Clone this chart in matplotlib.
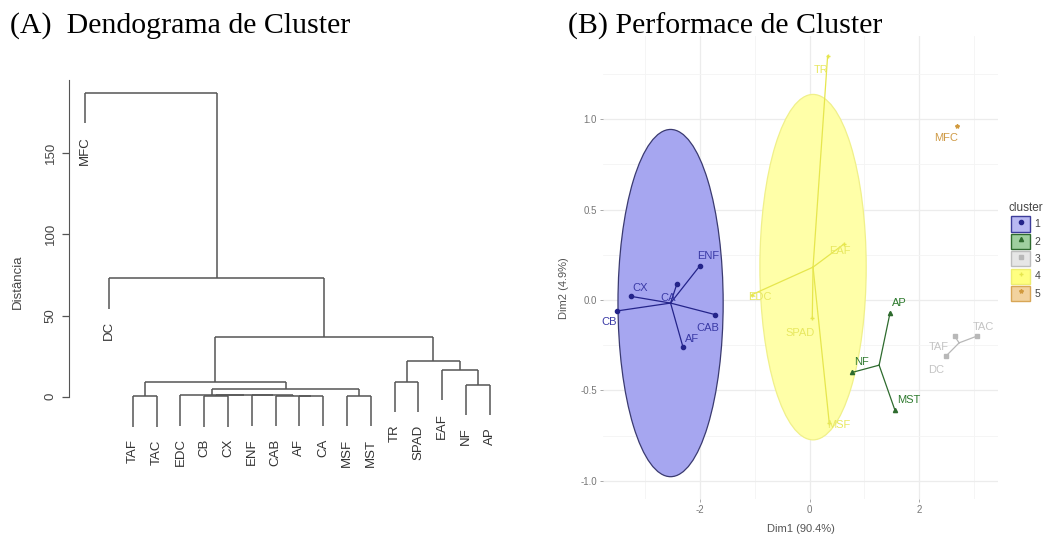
import matplotlib
matplotlib.use("Agg")
import matplotlib.pyplot as plt
from matplotlib.patches import Ellipse, Patch
from matplotlib.lines import Line2D

plt.rcParams['font.family'] = ['Liberation Sans', 'DejaVu Sans']
plt.rcParams['axes.unicode_minus'] = False

# ---------------- (A) dendrogram data ----------------
leaves = ["MFC", "DC", "TAF", "TAC", "EDC", "CB", "CX", "ENF", "CAB",
          "AF", "CA", "MSF", "MST", "TR", "SPAD", "EAF", "NF", "AP"]
# merges: (child a, child b, height); str = leaf, int = earlier merge
merge_a = ["CB", "AF", "CAB", "ENF", 0, "EDC", "MSF", 5, "TAF", 8,
           "TR", "NF", "EAF", 10, 9, "DC", "MFC"]
merge_b = ["CX", "CA", 1, 2, 3, 4, "MST", 6, "TAC", 7,
           "SPAD", "AP", 11, 12, 13, 14, 15]
merge_h = [0.4, 0.5, 0.6, 0.8, 0.9, 1.0, 0.5, 4.9, 0.3, 9.2,
           9.2, 7.4, 16.6, 22.0, 37.0, 72.8, 187.0]
hang = 0.1 * max(merge_h)

# ---------------- (B) cluster plot data ----------------
cl_names = [["ENF", "CX", "CA", "CB", "CAB", "AF"],
            ["AP", "NF", "MST"],
            ["TAC", "TAF", "DC"],
            ["TR", "EAF", "EDC", "SPAD", "MSF"],
            ["MFC"]]
cl_x = [[-2.0, -3.25, -2.42, -3.51, -1.73, -2.31],
        [1.47, 0.78, 1.56],
        [3.05, 2.65, 2.49],
        [0.33, 0.63, -1.05, 0.05, 0.36],
        [2.69]]
cl_y = [[0.19, 0.02, 0.09, -0.06, -0.08, -0.26],
        [-0.07, -0.40, -0.61],
        [-0.20, -0.20, -0.31],
        [1.35, 0.31, 0.03, -0.10, -0.68],
        [0.96]]
# ellipse semi-axes (Dim1, Dim2) for clusters that have one
ell_rx = [0.96, None, None, 0.97, None]
ell_ry = [0.96, None, None, 0.955, None]

# label offsets in pixels (dx, dy) relative to point
lab_off = {"ENF": (8, 10), "CX": (9, 8), "CA": (-9, -14), "CB": (-8, -11),
           "CAB": (-7, -13), "AF": (9, 8), "AP": (9, 10), "NF": (9, 10),
           "MST": (14, 10), "TAC": (7, 9), "TAF": (-16, -11), "DC": (-10, -14),
           "MFC": (-11, -12), "TR": (-6, -14), "EAF": (-4, -7), "EDC": (8, -2),
           "SPAD": (-12, -15), "MSF": (9, -2)}

pt_col = ["#24248a", "#2e6b2e", "#b8b8b8", "#e6e64d", "#d19a3e"]
txt_col = ["#3a3aa6", "#2e7a2e", "#c4c4c4", "#e8e860", "#cf9a45"]
ell_fc = ["#a6a6f0", None, None, "#ffffa8", None]
ell_ec = ["#3a3a70", None, None, "#f0f08a", None]
key_fc = ["#b8b8f2", "#9fcf9f", "#e6e6e6", "#ffff80", "#f2d29e"]
key_ec = ["#3c3c9a", "#2e6b2e", "#bdbdbd", "#eeee70", "#d8a656"]
markers = ["o", "^", "s", "+", "*"]

fig = plt.figure(figsize=(10.52, 5.40), dpi=100)

# ---------------- panel A ----------------
ax = fig.add_axes([69 / 1052, 1 - 440 / 540, 437 / 1052, 360.4 / 540])
lc = "#555555"
node_x = []
for a, b, h in zip(merge_a, merge_b, merge_h):
    pts = []
    for c in (a, b):
        if isinstance(c, str):
            cx, cy = leaves.index(c) + 1, h - hang
            ax.annotate(c, xy=(cx, cy), xytext=(0, -9), textcoords="offset points",
                        rotation=90, ha="center", va="top", fontsize=9.5, color="#333333")
        else:
            cx, cy = node_x[c], merge_h[c]
        ax.plot([cx, cx], [cy, h], color=lc, lw=1.1, solid_capstyle="butt")
        pts.append(cx)
    ax.plot(pts, [h, h], color=lc, lw=1.1, solid_capstyle="butt")
    node_x.append(sum(pts) / 2)

ax.set_xlim(0.32, 18.68)
ax.set_ylim(-26.6, 195.2)
for s in ["top", "right", "bottom"]:
    ax.spines[s].set_visible(False)
ax.spines["left"].set_bounds(0, 195.2)
ax.spines["left"].set_color("#555555")
ax.set_xticks([])
ax.set_yticks([0, 50, 100, 150])
ax.tick_params(axis="y", length=5, width=0.9, color="#555555", labelsize=9.5,
               labelcolor="#444444", pad=4)
for t in ax.get_yticklabels():
    t.set_rotation(90)
    t.set_va("center")
ax.set_ylabel("Distância", fontsize=9.5, color="#444444")
ax.yaxis.set_label_coords(-0.104, 0.44)
ax.patch.set_alpha(0)

# ---------------- panel B ----------------
bx = fig.add_axes([603 / 1052, 1 - 499 / 540, 395 / 1052, 463 / 540])
bx.set_xlim(-3.77, 3.44)
bx.set_ylim(-1.10, 1.46)
bx.set_xticks([-2, 0, 2])
bx.set_xticks([-3, -1, 1, 3], minor=True)
bx.set_yticks([-1.0, -0.5, 0.0, 0.5, 1.0])
bx.set_yticks([-0.75, -0.25, 0.25, 0.75, 1.25], minor=True)
bx.set_yticklabels(["-1.0", "-0.5", "0.0", "0.5", "1.0"])
bx.grid(True, which="major", color="#ececec", lw=0.9)
bx.grid(True, which="minor", color="#f4f4f4", lw=0.6)
bx.set_axisbelow(True)
for s in bx.spines.values():
    s.set_visible(False)
bx.tick_params(which="major", length=2.5, width=0.6, color="#9a9a9a",
               labelsize=7, labelcolor="#777777", pad=2)
bx.tick_params(which="minor", length=0)

for k in range(5):
    xs, ys = cl_x[k], cl_y[k]
    mx, my = sum(xs) / len(xs), sum(ys) / len(ys)
    if ell_rx[k] is not None:
        bx.add_patch(Ellipse((mx, my), 2 * ell_rx[k], 2 * ell_ry[k],
                             fc=ell_fc[k], ec=ell_ec[k], lw=0.9, zorder=2))
    for n, px, py in zip(cl_names[k], xs, ys):
        if len(xs) > 1:
            bx.plot([mx, px], [my, py], color=pt_col[k], lw=0.9, zorder=3)
        bx.plot(px, py, marker=markers[k], color=pt_col[k], ms=3, zorder=4, ls="")
        dx, dy = lab_off[n]
        bx.annotate(n, xy=(px, py), xytext=(dx / 1.389, dy / 1.389),
                    textcoords="offset points", ha="center", va="center",
                    fontsize=8, color=txt_col[k], zorder=5)

bx.set_xlabel("Dim1 (90.4%)", fontsize=8, color="#555555", labelpad=6)
bx.set_ylabel("Dim2 (4.9%)", fontsize=8, color="#555555")
bx.yaxis.set_label_coords(-0.085, 0.455)

handles = [(Patch(fc=key_fc[k], ec=key_ec[k], lw=1),
            Line2D([], [], marker=markers[k], color=pt_col[k], ms=3, ls=""))
           for k in range(5)]
leg = bx.legend(handles, ["1", "2", "3", "4", "5"], title="cluster",
                loc="upper left", bbox_to_anchor=(1003 / 1052, 1 - 197 / 540),
                bbox_transform=fig.transFigure, frameon=False, fontsize=7.5,
                title_fontsize=8.5, handlelength=1.85, handleheight=1.85,
                labelspacing=0.22, handletextpad=0.4, borderpad=0)
leg.get_title().set_color("#444444")
for t in leg.get_texts():
    t.set_color("#444444")

# ---------------- titles ----------------
fig.text(10 / 1052, 1 - 26 / 540, "(A)  Dendograma de Cluster", fontsize=21.5,
         family="Liberation Serif", va="center", ha="left")
fig.text(568 / 1052, 1 - 26 / 540, "(B) Performace de Cluster", fontsize=21.5,
         family="Liberation Serif", va="center", ha="left", zorder=10)

fig.savefig("out.png", dpi=100)
